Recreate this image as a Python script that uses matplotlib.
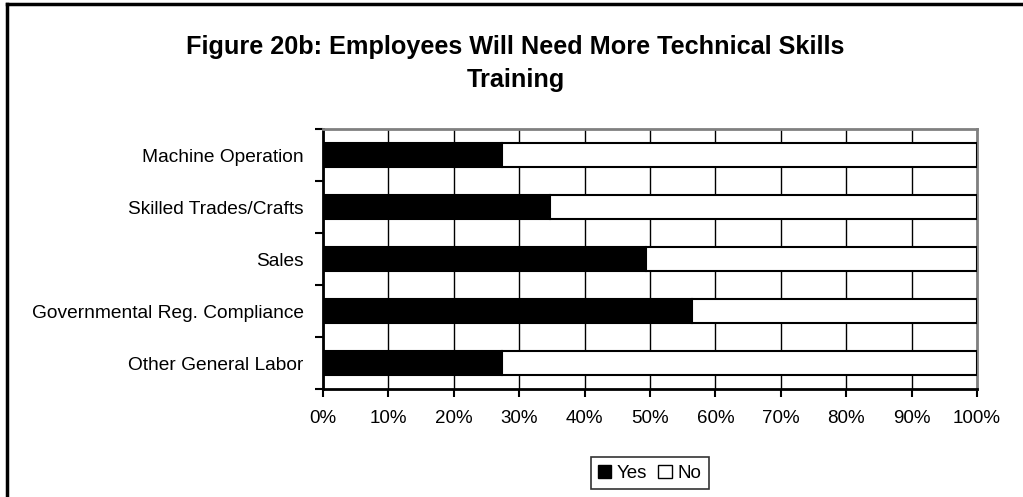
import numpy as np
from matplotlib import pyplot as plt
from matplotlib.lines import Line2D
from matplotlib.patches import Patch

categories = [
    "Machine Operation",
    "Skilled Trades/Crafts",
    "Sales",
    "Governmental Reg. Compliance",
    "Other General Labor",
]
yes_pct = [27.4, 34.7, 49.4, 56.4, 27.4]
no_pct = [100 - v for v in yes_pct]
x_ticks = list(range(0, 101, 10))

plt.rcParams["font.family"] = ["Liberation Sans", "DejaVu Sans"]

fig = plt.figure(figsize=(10.23, 4.97), dpi=100)
ax = fig.add_axes([0.3157, 0.2173, 0.955 - 0.3157, 0.7404 - 0.2173])

y = np.arange(len(categories))
ax.barh(y, yes_pct, height=0.45, color="black", edgecolor="black", linewidth=1.5, zorder=3)
ax.barh(y, no_pct, left=yes_pct, height=0.45, color="white", edgecolor="black", linewidth=1.5, zorder=3)

ax.set_xlim(0, 100)
ax.set_ylim(len(categories) - 0.5, -0.5)
ax.set_xticks(x_ticks)
ax.set_xticklabels([f"{v}%" for v in x_ticks], fontsize=13.5)
ax.set_yticks(y)
ax.set_yticklabels(categories, fontsize=13.8)
ax.set_yticks(np.arange(-0.5, len(categories), 1), minor=True)
ax.tick_params(axis="y", which="major", length=0, pad=14)
ax.tick_params(axis="y", which="minor", length=6, width=1.5, direction="out")
ax.tick_params(axis="x", length=6, width=1.5, direction="out", pad=9)
ax.xaxis.grid(True, color="black", linewidth=1)
ax.set_axisbelow(True)

for side in ("left", "bottom"):
    ax.spines[side].set_linewidth(2)
    ax.spines[side].set_color("black")
for side in ("top", "right"):
    ax.spines[side].set_linewidth(2)
    ax.spines[side].set_color("#808080")

fig.text(0.504, 0.905, "Figure 20b: Employees Will Need More Technical Skills",
         ha="center", va="center", fontsize=18.2, fontweight="bold")
fig.text(0.504, 0.84, "Training", ha="center", va="center", fontsize=18.2, fontweight="bold")

# page edge lines along the top and left
fig.add_artist(Line2D([0.0065, 1.0], [0.992, 0.992], color="black", linewidth=2.5, transform=fig.transFigure))
fig.add_artist(Line2D([0.0065, 0.0065], [0.0, 0.992], color="black", linewidth=2.5, transform=fig.transFigure))

handles = [
    Patch(facecolor="black", edgecolor="black", label="Yes"),
    Patch(facecolor="white", edgecolor="black", label="No"),
]
leg = fig.legend(handles=handles, loc="center", bbox_to_anchor=(0.635, 0.048), ncol=2,
                 fontsize=13.5, frameon=True, fancybox=False, handlelength=0.7,
                 handleheight=0.7, handletextpad=0.3, columnspacing=0.6,
                 borderpad=0.4)
leg.get_frame().set_edgecolor("black")
leg.get_frame().set_linewidth(1.2)

fig.savefig("out.png", dpi=100)
